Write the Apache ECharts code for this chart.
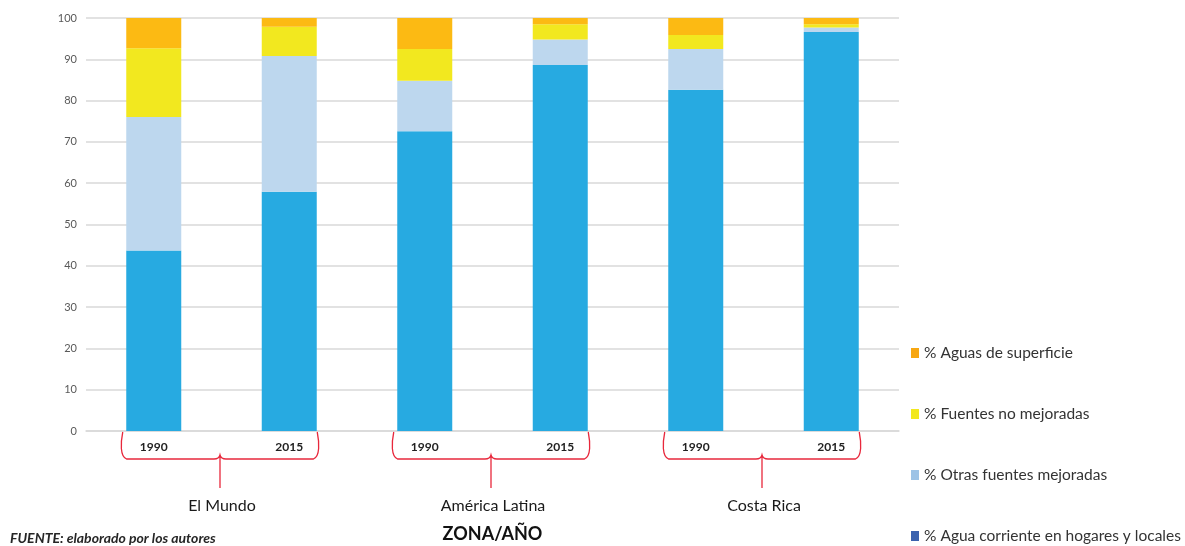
<!DOCTYPE html>
<html>
<head>
<meta charset="utf-8">
<script src="https://cdn.jsdelivr.net/npm/echarts@6/dist/echarts.min.js"></script>
<style>html,body{margin:0;padding:0;background:#fff}#c{width:1185px;height:546px}</style>
</head>
<body>
<div id="c"></div>
<script>
const categories = ['1990', '2015', '1990', '2015', '1990', '2015'];
const groups = ['El Mundo', 'América Latina', 'Costa Rica'];
const aguaCorriente = [43.7, 57.9, 72.6, 88.6, 82.6, 96.6];
const otrasMejoradas = [32.3, 32.9, 12.2, 6.2, 9.9, 1.1];
const noMejoradas = [16.7, 7.1, 7.7, 3.7, 3.4, 0.8];
const superficie = [7.3, 2.1, 7.5, 1.5, 4.1, 1.5];
const yTicks = [0, 10, 20, 30, 40, 50, 60, 70, 80, 90, 100];

const FONT = "Lato, 'Open Sans', sans-serif";
const names = ['% Agua corriente en hogares y locales', '% Otras fuentes mejoradas', '% Fuentes no mejoradas', '% Aguas de superficie'];
const colors = ['#27aae1', '#bdd7ee', '#f2e81f', '#fcba13'];
const legendColors = ['#3b62ae', '#9dc3e6', '#f2e81f', '#f7a712'];
const values = [aguaCorriente, otrasMejoradas, noMejoradas, superficie];

const chart = echarts.init(document.getElementById('c'));
const barSeries = values.map((v, i) => ({
  name: names[i],
  type: 'bar',
  stack: 'total',
  barWidth: 55,
  itemStyle: { color: colors[i] },
  data: v
}));

const braceData = groups.map((g, i) => [2 * i, 2 * i + 1]);

const braceSeries = {
  type: 'custom',
  name: 'braces',
  clip: false,
  silent: true,
  z: 10,
  encode: { x: [0, 1] },
  data: braceData,
  renderItem: function (params, api) {
    const a = api.coord([api.value(0), 0]);
    const b = api.coord([api.value(1), 0]);
    const y0 = a[1] + 1;
    const x1 = a[0] - 31;
    const x2 = b[0] + 28;
    const xm = (x1 + x2) / 2;
    const yh = y0 + 27;
    const yb = y0 + 56;
    const path = 'M' + x1 + ' ' + y0 +
      ' C' + (x1 - 2) + ' ' + (y0 + 10) + ' ' + (x1 - 3) + ' ' + (yh - 2) + ' ' + (x1 + 4) + ' ' + yh +
      ' L' + (xm - 6) + ' ' + yh +
      ' Q' + (xm - 1) + ' ' + yh + ' ' + xm + ' ' + (yh - 4) +
      ' Q' + (xm + 1) + ' ' + yh + ' ' + (xm + 6) + ' ' + yh +
      ' L' + (x2 - 4) + ' ' + yh +
      ' C' + (x2 + 3) + ' ' + (yh - 2) + ' ' + (x2 + 2) + ' ' + (y0 + 10) + ' ' + x2 + ' ' + y0 +
      ' M' + xm + ' ' + (yh - 3) + ' L' + xm + ' ' + yb;
    return {
      type: 'group',
      children: [
        {
          type: 'path',
          shape: { pathData: path },
          style: { fill: null, stroke: '#e8283c', lineWidth: 1.3 }
        },
        {
          type: 'text',
          x: xm + 2,
          y: y0 + 74,
          style: {
            text: groups[params.dataIndex],
            fill: '#1a1a1a',
            font: '16px ' + FONT,
            align: 'center',
            verticalAlign: 'middle'
          }
        }
      ]
    };
  }
};

chart.setOption({
  animation: false,
  backgroundColor: '#ffffff',
  grid: { left: 86, right: 286, top: 18, bottom: 115, outerBoundsMode: 'none', containLabel: false },
  legend: {
    orient: 'vertical',
    left: 911,
    top: 345,
    height: 260,
    padding: 0,
    itemWidth: 8,
    itemHeight: 10,
    itemGap: 45,
    icon: 'rect',
    textStyle: { fontFamily: FONT, fontSize: 15.5, color: '#333', lineHeight: 16 },
    data: [3, 2, 1, 0].map(i => ({ name: names[i], itemStyle: { color: legendColors[i] } }))
  },
  xAxis: {
    type: 'category',
    data: categories,
    name: 'ZONA/AÑO',
    nameLocation: 'middle',
    nameGap: 94,
    nameTextStyle: { fontFamily: FONT, fontSize: 18, fontWeight: 'bold', color: '#111' },
    axisLine: { show: true, lineStyle: { color: '#d9d9d9', width: 1.5 } },
    axisTick: { show: false },
    axisLabel: { fontFamily: FONT, fontSize: 12, fontWeight: 'bold', color: '#222', margin: 10 }
  },
  yAxis: {
    type: 'value',
    min: 0,
    max: 100,
    interval: 10,
    axisLine: { show: false },
    axisTick: { show: false },
    axisLabel: {
      fontFamily: FONT, fontSize: 11, color: '#595959', margin: 9,
      formatter: v => yTicks.includes(v) ? String(v) : ''
    },
    splitLine: { lineStyle: { color: '#d9d9d9', width: 1.5 } }
  },
  graphic: [{
    type: 'text',
    left: 10,
    top: 531,
    style: {
      text: 'FUENTE: elaborado por los autores',
      font: 'italic bold 14px ' + FONT,
      fill: '#262626'
    }
  }],
  series: barSeries.concat([braceSeries])
});
</script>
</body>
</html>
